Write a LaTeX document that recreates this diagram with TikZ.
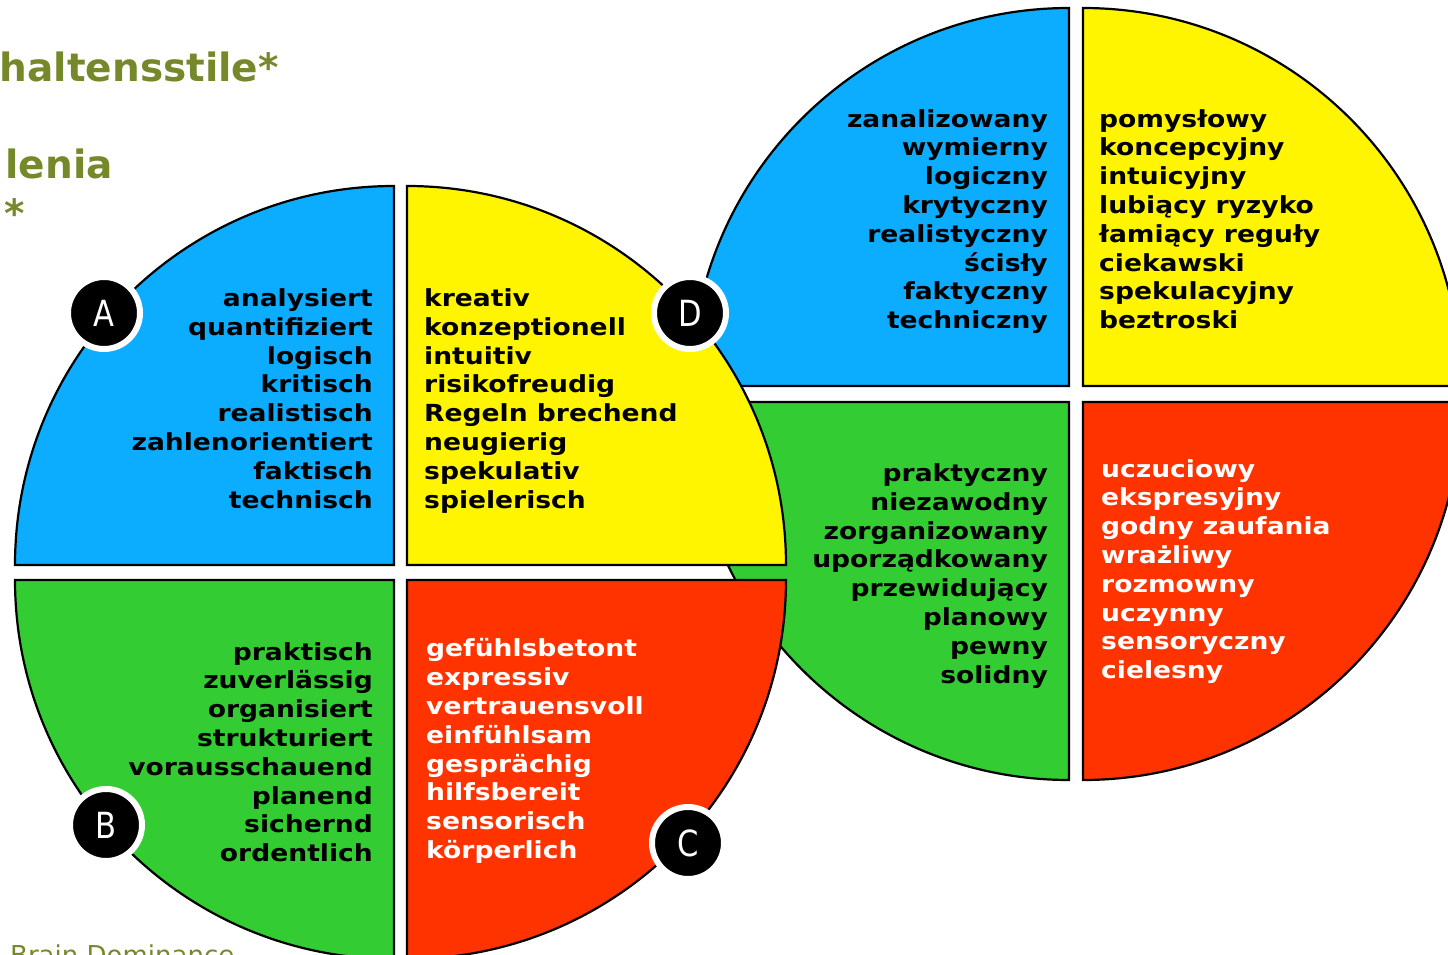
\documentclass[tikz,border=0pt]{standalone}
\usepackage{fontspec}
\setmainfont{DejaVu Sans}
\newfontfamily\wordfont[FakeStretch=1.13]{DejaVu Sans}
\newfontfamily\badgefont[FakeStretch=0.85]{DejaVu Sans}

\definecolor{qblue}{RGB}{12,172,255}
\definecolor{qyellow}{RGB}{255,245,0}
\definecolor{qgreen}{RGB}{51,204,51}
\definecolor{qred}{RGB}{255,51,0}
\definecolor{olive}{RGB}{118,137,42}

\begin{document}
\begin{tikzpicture}[x=1pt,y=-1pt,
    quarter/.style={draw=black, line width=2.2pt},
    words/.style={inner sep=0pt, font=\wordfont\bfseries\fontsize{23.5}{28.8}\selectfont},
    rwords/.style={words, align=right, anchor=north east},
    lwords/.style={words, align=left, anchor=north west},
    badge/.style={circle, fill=black, draw=white, line width=6pt, minimum size=72pt,
        inner sep=0pt, text=white, font=\badgefont\fontsize{36}{36}\selectfont},
    heading/.style={inner sep=0pt, text=olive, font=\bfseries\fontsize{39}{39}\selectfont}]
    \useasboundingbox (0,0) rectangle (1448,955);
    %\draw[step=100,gray,very thin] (0,0) grid (1448,955);

    % right circle (behind)
    \filldraw[quarter, fill=qblue] (1069,386) -- (691,386) arc[start angle=180, end angle=270, radius=378] -- cycle;
    \filldraw[quarter, fill=qyellow] (1083,386) -- (1083,8) arc[start angle=270, end angle=360, radius=378] -- cycle;
    \filldraw[quarter, fill=qgreen] (1069,402) -- (1069,780) arc[start angle=90, end angle=180, radius=378] -- cycle;
    \filldraw[quarter, fill=qred] (1083,402) -- (1461,402) arc[start angle=0, end angle=90, radius=378] -- cycle;

    % left circle
    \filldraw[quarter, fill=qblue] (394,565) -- (15,565) arc[start angle=180, end angle=270, radius=379] -- cycle;
    \filldraw[quarter, fill=qyellow] (407,565) -- (407,186) arc[start angle=270, end angle=360, radius=379] -- cycle;
    \filldraw[quarter, fill=qgreen] (394,580) -- (394,959) arc[start angle=90, end angle=180, radius=379] -- cycle;
    \filldraw[quarter, fill=qred] (407,580) -- (786,580) arc[start angle=0, end angle=90, radius=379] -- cycle;

    % headings, cut off by the page
    \node[heading, anchor=base east] (title) at (279,82) {haltensstile*};
    \node[heading, anchor=base east] (subtitle) at (113,178) {lenia};
    \node[heading, anchor=base west] (star) at (4,227) {*};
    \node[inner sep=0pt, text=olive, font=\fontsize{26}{26}\selectfont, anchor=base west] (hbdi) at (10,964) {Brain Dominance};

    % German
    \node[rwords] (deA) at (373,288.5) {analysiert\\quantifiziert\\logisch\\kritisch\\realistisch\\zahlenorientiert\\faktisch\\technisch};
    \node[lwords] (deD) at (424,288.5) {kreativ\\konzeptionell\\intuitiv\\risikofreudig\\Regeln brechend\\neugierig\\spekulativ\\spielerisch};
    \node[rwords] (deB) at (373,642) {praktisch\\zuverlässig\\organisiert\\strukturiert\\vorausschauend\\planend\\sichernd\\ordentlich};
    \node[lwords, text=white] (deC) at (426,638.5) {gefühlsbetont\\expressiv\\vertrauensvoll\\einfühlsam\\gesprächig\\hilfsbereit\\sensorisch\\körperlich};

    % Polish
    \node[rwords] (plA) at (1048,109) {zanalizowany\\wymierny\\logiczny\\krytyczny\\realistyczny\\ścisły\\faktyczny\\techniczny};
    \node[lwords] (plD) at (1099,109) {pomysłowy\\koncepcyjny\\intuicyjny\\lubiący ryzyko\\łamiący reguły\\ciekawski\\spekulacyjny\\beztroski};
    \node[rwords] (plB) at (1048,463.5) {praktyczny\\niezawodny\\zorganizowany\\uporządkowany\\przewidujący\\planowy\\pewny\\solidny};
    \node[lwords, text=white] (plC) at (1101,459) {uczuciowy\\ekspresyjny\\godny zaufania\\wrażliwy\\rozmowny\\uczynny\\sensoryczny\\cielesny};

    % quadrant letters
    \node[badge] (A) at (104,313) {A};
    \node[badge] (B) at (106,825) {B};
    \node[badge] (C) at (688,843) {C};
    \node[badge] (D) at (690,313) {D};
\end{tikzpicture}
\end{document}
